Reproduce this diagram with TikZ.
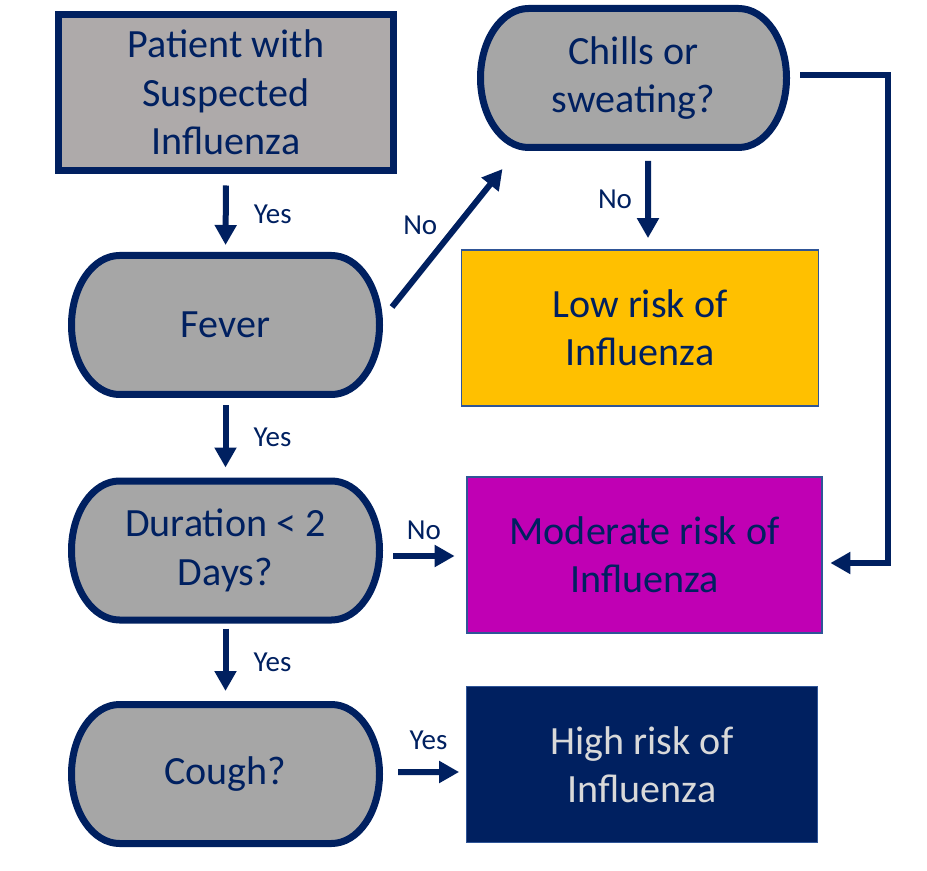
\documentclass[tikz,border=0pt]{standalone}
\usepackage{fontspec}
\setmainfont{Carlito}
\usepackage{xcolor}
\usepackage{tikz}
\usetikzlibrary{arrows.meta,positioning,backgrounds}
\definecolor{navyc}{HTML}{002060}
\definecolor{edgec}{HTML}{2F5597}
\definecolor{boxgray}{HTML}{AEAAAA}
\definecolor{pillgray}{HTML}{A6A6A6}
\definecolor{lowc}{HTML}{FFC000}
\definecolor{modc}{HTML}{C000B4}
\definecolor{textlt}{HTML}{D9D9D9}
\tikzset{
  ar/.style={-{Triangle[length=0.4cm,width=0.42cm]},line width=0.12cm,navyc},
  startbox/.style={draw=navyc,line width=0.14cm,fill=boxgray,align=center,text=navyc,
    font=\fontsize{22.8}{27.5}\selectfont,minimum width=6.70cm,minimum height=3.12cm},
  pill/.style={align=center,text=navyc,font=\fontsize{22.8}{27.5}\selectfont,
    minimum width=6.16cm,minimum height=2.78cm,inner sep=2pt,outer sep=0pt},
  pillline/.style={draw=navyc,line width=0.14cm,fill=pillgray},
  risk/.style={draw=edgec,line width=1pt,align=center,
    font=\fontsize{22.8}{27.5}\selectfont,minimum width=7.1cm,minimum height=3.12cm},
  lbl/.style={text=navyc,font=\fontsize{16.5}{19}\selectfont,inner sep=0pt}
}
\newcommand{\pillshape}[1]{%
  \draw[pillline] ([xshift=0.96cm]#1.north west) -- ([xshift=-0.96cm]#1.north east)
    arc[start angle=90,end angle=-90,x radius=0.96cm,y radius=1.39cm]
    -- ([xshift=0.96cm]#1.south west)
    arc[start angle=270,end angle=90,x radius=0.96cm,y radius=1.39cm] -- cycle;}

\begin{document}
\begin{tikzpicture}
\useasboundingbox (0,0) rectangle (18.54,17.4);
\node[startbox] (patient) at (4.52,15.55) {Patient with\\Suspected\\Influenza};
\node[pill,minimum width=6.12cm] (chills) at (12.67,15.84) {Chills or\\sweating?};
\node[pill] (fever) at (4.51,10.90) {Fever};
\node[pill] (dur) at (4.51,6.39) {Duration < 2\\Days?};
\node[pill] (cough) at (4.51,1.92) {Cough?};
\node[risk,fill=lowc,text=navyc,minimum width=7.14cm] (low) at (12.80,10.84) {Low risk of\\Influenza};
\node[risk,fill=modc,text=navyc] (mod) at (12.89,6.30) {Moderate risk of\\Influenza};
\node[risk,fill=navyc,text=textlt,minimum width=7.02cm] (high) at (12.84,2.11) {High risk of\\Influenza};
\begin{scope}[on background layer]
\foreach \p in {chills,fever,dur,cough}{\pillshape{\p}}
\end{scope}

\draw[ar,shorten <=0.23cm,shorten >=0.21cm] (patient.south) -- node[lbl,right=0.5cm] {Yes} (fever.north);
\draw[ar,shorten <=0.21cm,shorten >=0.27cm] (fever.south) -- node[lbl,right=0.5cm] {Yes} (dur.north);
\draw[ar,shorten <=0.17cm,shorten >=0.27cm] (dur.south) -- node[lbl,right=0.5cm] {Yes} (cough.north);
\draw[ar] ([shift={(0.25,0.36)}]fever.east) -- node[lbl,xshift=-0.54cm,yshift=0.25cm] {No} ([shift={(-2.62,-0.43)}]chills.south);
\draw[ar] ([shift={(0.29,-0.27)}]chills.south) -- node[lbl,left=0.26cm] {No} ([shift={(0.16,0.22)}]low.north);
\draw[ar] ([shift={(0.27,-0.11)}]dur.east) -- node[lbl,above=0.26cm] {No} ([shift={(-0.23,-0.02)}]mod.west);
\draw[ar] ([shift={(0.37,0.04)}]cough.east) -- node[lbl,above=0.38cm] {Yes} ([shift={(-0.13,-0.15)}]high.west);
\draw[ar] ([shift={(0.27,0.06)}]chills.east) -- ++(1.76,0) |- ([shift={(0.15,-0.16)}]mod.east);
\end{tikzpicture}
\end{document}
